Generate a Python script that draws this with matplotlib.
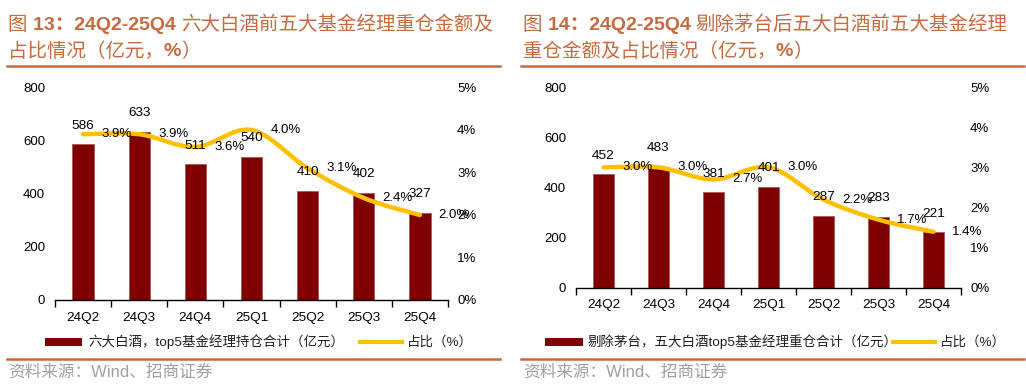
import matplotlib
matplotlib.use('Agg')
import matplotlib.pyplot as plt
from matplotlib.path import Path
from matplotlib.patches import PathPatch, Rectangle
from matplotlib.lines import Line2D
from matplotlib.font_manager import FontProperties, findfont, get_font
import numpy as np

# ---------------- data ----------------
quarters = ['24Q2', '24Q3', '24Q4', '25Q1', '25Q2', '25Q3', '25Q4']
amount_all = [586, 633, 511, 540, 410, 402, 327]
share_all = [3.9, 3.9, 3.6, 4.0, 3.1, 2.4, 2.0]
amount_ex = [452, 483, 381, 401, 287, 283, 221]
share_ex = [3.0, 3.0, 2.7, 3.0, 2.2, 1.7, 1.4]

left_ticks = [0, 200, 400, 600, 800]
right_ticks = [0, 1, 2, 3, 4, 5]

# title pieces: (text, weight)
title_left = [[('图 ', 'normal'), ('13：24Q2-25Q4 ', 'bold'),
               ('六大白酒前五大基金经理重仓金额及', 'normal')],
              [('占比情况（亿元，', 'normal'), ('%', 'bold'), ('）', 'normal')]]
title_right = [[('图 ', 'normal'), ('14：24Q2-25Q4 ', 'bold'),
                ('剔除茅台后五大白酒前五大基金经理', 'normal')],
               [('重仓金额及占比情况（亿元，', 'normal'), ('%', 'bold'), ('）', 'normal')]]
legend_left = ['六大白酒，top5基金经理持仓合计（亿元）', '占比（%）']
legend_right = ['剔除茅台，五大白酒top5基金经理重仓合计（亿元）', '占比（%）']
source = '资料来源：Wind、招商证券'

# ---------------- style ----------------
FAMS = ['Liberation Sans', 'Noto Sans CJK SC', 'DejaVu Sans']
plt.rcParams['font.family'] = FAMS
BAR = '#7F0000'
LINE = '#FFC000'
ACCENT = '#C8693F'
W, H = 1026, 387

fig = plt.figure(figsize=(W / 100, H / 100), dpi=100)


def fx(x):
    return x / W


def fy(y):
    return 1 - y / H


def advance_px(s, size, weight):
    total = 0.0
    for ch in s:
        for fam in FAMS:
            f = get_font(findfont(FontProperties(family=fam, weight=weight)))
            if f.get_char_index(ord(ch)):
                f.set_size(size, 72)
                g = f.load_char(ord(ch))
                total += g.linearHoriAdvance / 65536.0
                break
    return total * 100.0 / 72.0


def rich_text(x, y, parts, size, color):
    for text, wt in parts:
        fig.text(fx(x), fy(y), text, ha='left', va='center', fontsize=size,
                 fontweight=wt, color=color)
        x += advance_px(text, size, wt)


def smooth_path(xs, ys):
    pts = list(zip(xs, ys))
    verts = [pts[0]]
    codes = [Path.MOVETO]
    n = len(pts)
    for i in range(n - 1):
        p0 = pts[i - 1] if i > 0 else pts[i]
        p1 = pts[i]
        p2 = pts[i + 1]
        p3 = pts[i + 2] if i + 2 < n else pts[i + 1]
        c1 = (p1[0] + (p2[0] - p0[0]) / 6, p1[1] + (p2[1] - p0[1]) / 6)
        c2 = (p2[0] - (p3[0] - p1[0]) / 6, p2[1] - (p3[1] - p1[1]) / 6)
        verts += [c1, c2, p2]
        codes += [Path.CURVE4] * 3
    return Path(verts, codes)


def panel(px0, px1, py_top, py_bot, amounts, shares, xpad):
    rect = [fx(px0), fy(py_bot), (px1 - px0) / W, (py_bot - py_top) / H]
    ax = fig.add_axes(rect)
    x = np.arange(len(quarters))
    ax.bar(x, amounts, width=0.38, color=BAR, edgecolor='#A85858',
           linewidth=0.6, zorder=2)
    ax.set_xlim(-0.5, len(quarters) - 0.5)
    ax.set_ylim(0, 800)
    ax.set_yticks(left_ticks)
    ax.set_yticklabels([str(v) for v in left_ticks])
    for s in ['top', 'left', 'right']:
        ax.spines[s].set_visible(False)
    ax.spines['bottom'].set_linewidth(1.0)
    ax.spines['bottom'].set_color('black')
    ax.set_xticks(x)
    ax.set_xticklabels(quarters)
    ax.set_xticks(np.arange(-0.5, len(quarters), 1.0), minor=True)
    ax.tick_params(axis='x', which='major', length=0, pad=xpad, labelsize=9.7)
    ax.tick_params(axis='x', which='minor', length=5, width=1.0, direction='out')
    ax.tick_params(axis='y', length=0, pad=7, labelsize=9.5)

    ax2 = ax.twinx()
    ax2.set_ylim(0, 5)
    ax2.set_yticks(right_ticks)
    ax2.set_yticklabels([f'{v}%' for v in right_ticks])
    for s in ax2.spines.values():
        s.set_visible(False)
    ax2.tick_params(axis='y', length=0, pad=6.5, labelsize=9.5)

    path = smooth_path(list(x), shares)
    ax2.add_patch(PathPatch(path, facecolor='none', edgecolor=LINE, lw=3.2,
                            capstyle='round', zorder=3))

    for i, v in enumerate(amounts):
        ax2.annotate(str(v), xy=(i, v), xycoords=ax.transData,
                     xytext=(0, 13.5), textcoords='offset points',
                     ha='center', va='center', fontsize=9.7, zorder=5,
                     annotation_clip=False)
    for i, s in enumerate(shares):
        ax2.annotate(f'{s:.1f}%', xy=(i, s), xytext=(13.5, 0),
                     textcoords='offset points', ha='left', va='center',
                     fontsize=9.5, zorder=5, annotation_clip=False)
    return ax, ax2


def rule(x0, x1, y):
    fig.add_artist(Line2D([fx(x0), fx(x1)], [fy(y), fy(y)], color=ACCENT,
                          lw=1.8, transform=fig.transFigure))


def legend(rx0, rx1, tx1, lx0, lx1, tx2, y, labels):
    fig.add_artist(Rectangle((fx(rx0), fy(y + 4)), (rx1 - rx0) / W, 8 / H,
                             facecolor=BAR, edgecolor='none',
                             transform=fig.transFigure))
    fig.text(fx(tx1), fy(y), labels[0], ha='left', va='center', fontsize=9.7,
             color='#202020')
    fig.add_artist(Line2D([fx(lx0), fx(lx1)], [fy(y), fy(y)], color=LINE,
                          lw=3, transform=fig.transFigure))
    fig.text(fx(tx2), fy(y), labels[1], ha='left', va='center', fontsize=9.7,
             color='#202020')


TSIZE = 14

# ---------------- left chart ----------------
rich_text(8, 25, title_left[0], TSIZE, ACCENT)
rich_text(8, 52, title_left[1], TSIZE, ACCENT)
rule(7, 500, 66)
panel(55, 448, 87.5, 300, amount_all, share_all, xpad=8.5)
legend(45, 82, 88, 360, 402, 407, 342, legend_left)
rule(7, 500, 359)
fig.text(fx(8), fy(372), source, ha='left', va='center', fontsize=12,
         color='#A0A0A0')

# ---------------- right chart ----------------
rich_text(523, 25, title_right[0], TSIZE, ACCENT)
rich_text(523, 52, title_right[1], TSIZE, ACCENT)
rule(521, 1024, 66)
panel(576, 961, 87, 288, amount_ex, share_ex, xpad=8)
legend(545, 583, 588, 893, 935, 940, 342, legend_right)
rule(521, 1024, 359)
fig.text(fx(523), fy(372), source, ha='left', va='center', fontsize=12,
         color='#A0A0A0')

fig.savefig('out.png', dpi=100)
